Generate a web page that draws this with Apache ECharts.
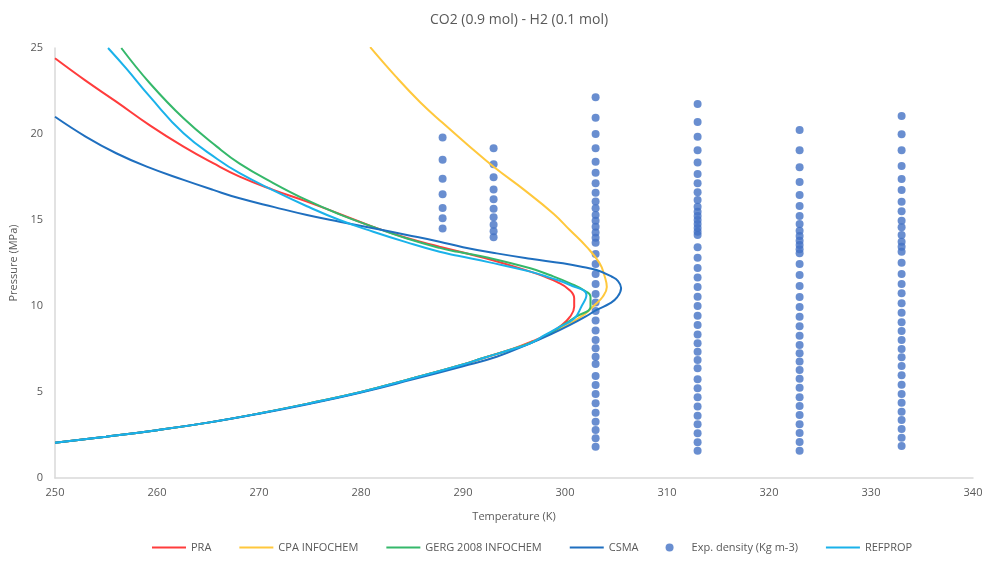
<!DOCTYPE html>
<html>
<head>
<meta charset="utf-8">
<script src="https://cdn.jsdelivr.net/npm/echarts@6/dist/echarts.min.js"></script>
<style>
  html, body { margin: 0; padding: 0; background: #fff; }
  #chart { width: 986px; height: 562px; }
</style>
</head>
<body>
<div id="chart"></div>
<script>
// Phase envelope of CO2 (0.9 mol) - H2 (0.1 mol): model curves [T (K), P (MPa)]
const pra = [[250,2.05],[255,2.4],[260,2.78],[265,3.22],[270,3.75],[275,4.35],[280,5.0],[285,5.78],[290,6.6],
  [292,6.98],[294.9,7.52],[296.8,7.95],[298.3,8.35],[299.6,8.85],[300.5,9.38],[300.9,9.95],[300.9,10.45],
  [300.4,10.95],[299.2,11.4],[297.8,11.75],[296.6,12.0],[293,12.65],[289.5,13.18],[287.7,13.45],[284.5,13.95],
  [281.2,14.6],[277.9,15.35],[274.7,16.07],[271.4,16.75],[268.1,17.52],[265.5,18.3],[262.6,19.26],[259.3,20.5],
  [256,21.88],[253,23.1],[250,24.4]];

const cpaInfochem = [[250,2.05],[255,2.4],[260,2.78],[265,3.22],[270,3.75],[275,4.35],[280,5.0],[285,5.78],[290,6.6],
  [292,6.98],[294.9,7.5],[296.6,7.85],[298.5,8.4],[300.5,9.0],[302,9.55],[302.8,10.0],[303.7,10.54],[304.1,11.1],
  [303.9,11.7],[303.4,12.48],[302.1,13.45],[300.5,14.4],[298.9,15.35],[296,16.75],[293.1,18.05],[290.5,19.35],
  [288,20.65],[285.8,21.85],[283.4,23.35],[280.9,25.05]];

const gerg2008 = [[250,2.05],[255,2.4],[260,2.78],[265,3.22],[270,3.75],[275,4.35],[280,5.0],[285,5.78],[290,6.6],
  [292,6.98],[294.9,7.5],[296.6,7.85],[298.5,8.4],[299.8,8.9],[301.1,9.38],[302.5,9.96],[302.5,10.54],[302.1,10.83],
  [300.5,11.32],[298.5,11.8],[296.6,12.19],[292.5,12.8],[289.5,13.15],[287.7,13.38],[284.5,13.92],[281.2,14.6],
  [277.9,15.33],[274.7,16.15],[271.4,17.15],[268.1,18.28],[265.9,19.25],[262.6,20.91],[259.3,22.95],[256.5,25.0]];

const csma = [[250,2.05],[255,2.4],[260,2.78],[265,3.22],[270,3.74],[275,4.32],[280,4.97],[285,5.72],[290,6.5],
  [293.3,7.05],[296.6,7.83],[298.6,8.35],[300.5,8.9],[302,9.38],[303.1,9.77],[304.4,10.15],[305.1,10.5],
  [305.5,11.05],[305.2,11.45],[304.6,11.7],[303.1,12.09],[301.5,12.3],[299.8,12.48],[296.6,12.75],[293.3,13.06],
  [290,13.42],[287.7,13.74],[284.5,14.13],[281.2,14.52],[277.9,14.9],[274.7,15.29],[271.5,15.75],[268.1,16.26],
  [265.5,16.75],[262.6,17.33],[259,18.1],[256,18.88],[253,19.85],[250,21.0]];

const refprop = [[250,2.05],[255,2.4],[260,2.78],[265,3.22],[270,3.75],[275,4.35],[280,5.0],[285,5.78],[290,6.6],
  [292,6.98],[294.9,7.5],[296.6,7.83],[298,8.3],[299.2,8.7],[300.9,9.28],[301.6,9.96],[302.1,10.64],[300.5,11.22],
  [298.5,11.65],[296.6,12.0],[292.5,12.55],[289.5,12.92],[287.7,13.15],[284.5,13.7],[281.2,14.32],[277.9,15.0],
  [274.7,15.8],[271.4,16.72],[268.1,17.72],[265.9,18.55],[262.6,20.04],[259.3,22.17],[257,23.8],[255.2,25.0]];

// Experimental density measurements: isotherm temperatures (K) and pressures (MPa)
const expTemps = [288, 293, 303, 313, 323, 333];
const expP288 = [19.8, 18.5, 17.4, 16.5, 15.7, 15.1, 14.5];
const expP293 = [19.17, 18.24, 17.48, 16.78, 16.2, 15.66, 15.16, 14.73, 14.34, 14.0];
const expP303 = [22.13, 20.95, 20.0, 19.17, 18.39, 17.75, 17.13, 16.59, 16.07, 15.68, 15.29, 14.96, 14.61,
  14.28, 13.97, 13.68, 13.02, 12.44, 11.86, 11.28, 10.7, 10.21, 9.71, 9.15, 8.57, 8.02, 7.54, 7.05, 6.63,
  5.93, 5.41, 4.88, 4.34, 3.8, 3.27, 2.79, 2.31, 1.82];
const expP313 = [21.74, 20.7, 19.84, 19.05, 18.35, 17.67, 17.13, 16.61, 16.16, 15.77, 15.48, 15.23, 15.0,
  14.77, 14.53, 14.32, 14.13, 13.41, 12.81, 12.21, 11.65, 11.1, 10.54, 10.0, 9.44, 8.9, 8.35, 7.83, 7.34,
  6.86, 6.38, 5.74, 5.22, 4.69, 4.15, 3.62, 3.12, 2.6, 2.08, 1.59];
const expP323 = [20.23, 19.05, 18.06, 17.21, 16.45, 15.81, 15.23, 14.77, 14.38, 14.07, 13.8, 13.55, 13.3,
  13.06, 12.44, 11.8, 11.16, 10.52, 9.94, 9.38, 8.82, 8.27, 7.73, 7.25, 6.77, 6.28, 5.77, 5.25, 4.69, 4.19,
  3.66, 3.12, 2.62, 2.09, 1.59];
const expP333 = [21.05, 19.98, 19.05, 18.14, 17.38, 16.74, 16.06, 15.51, 14.96, 14.58, 14.13, 13.74, 13.45,
  13.16, 12.52, 11.86, 11.28, 10.74, 10.16, 9.61, 9.05, 8.55, 8.02, 7.5, 7.02, 6.51, 5.97, 5.42, 4.88, 4.38,
  3.85, 3.37, 2.85, 2.34, 1.86];

const expPressures = [expP288, expP293, expP303, expP313, expP323, expP333];
const expPoints = [];
expTemps.forEach((t, i) => expPressures[i].forEach(p => expPoints.push([t, p])));

const FONT = 'Open Sans';
const TEXT = '#595959';

function curve(name, data, color) {
  return {
    name, type: 'line', data, smooth: 0.45, symbol: 'none', showSymbol: false,
    lineStyle: { color, width: 2 }, itemStyle: { color }, z: 3
  };
}

// legend entry for a curve: line only, no marker
function lineItem(name) {
  return { name, itemStyle: { opacity: 0 } };
}

const chart = echarts.init(document.getElementById('chart'), null, { renderer: 'canvas' });
chart.setOption({
  animation: false,
  backgroundColor: '#fff',
  textStyle: { fontFamily: FONT },
  title: {
    text: 'CO2 (0.9 mol) - H2 (0.1 mol)',
    left: 514, textAlign: 'center', top: 8,
    textStyle: { fontFamily: FONT, fontSize: 14, fontWeight: 'normal', color: TEXT }
  },
  grid: { left: 55, right: 13, top: 48, bottom: 84, containLabel: false },
  xAxis: {
    type: 'value', min: 250, max: 340, interval: 10,
    name: 'Temperature (K)', nameLocation: 'middle', nameGap: 33,
    nameTextStyle: { fontFamily: FONT, fontSize: 11, color: TEXT },
    axisLine: { show: true, lineStyle: { color: '#d9d9d9', width: 1.5 } },
    axisTick: { show: false },
    splitLine: { show: false },
    axisLabel: { fontFamily: FONT, fontSize: 11, color: TEXT, margin: 9 }
  },
  yAxis: {
    type: 'value', min: 0, max: 25, interval: 5,
    name: 'Pressure (MPa)', nameLocation: 'middle', nameGap: 24, nameRotate: 90,
    nameTextStyle: { fontFamily: FONT, fontSize: 11, color: TEXT },
    axisLine: { show: true, lineStyle: { color: '#d9d9d9', width: 1.5 } },
    axisTick: { show: false },
    splitLine: { show: false },
    axisLabel: { fontFamily: FONT, fontSize: 11, color: TEXT, margin: 12 }
  },
  legend: {
    bottom: 4, left: 146, itemGap: 27, itemWidth: 34, itemHeight: 8,
    textStyle: { fontFamily: FONT, fontSize: 11, color: TEXT },
    data: [lineItem('PRA'), lineItem('CPA INFOCHEM'), lineItem('GERG 2008 INFOCHEM'), lineItem('CSMA'),
      { name: 'Exp. density (Kg m-3)', icon: 'circle' }, lineItem('REFPROP')]
  },
  series: [
    curve('PRA', pra, '#ff3c3c'),
    curve('CPA INFOCHEM', cpaInfochem, '#ffc83c'),
    curve('GERG 2008 INFOCHEM', gerg2008, '#35b86a'),
    curve('CSMA', csma, '#1f6fbf'),
    {
      name: 'Exp. density (Kg m-3)', type: 'scatter', data: expPoints,
      symbol: 'circle', symbolSize: 8, itemStyle: { color: '#4472c4' }, z: 2
    },
    curve('REFPROP', refprop, '#1ab2ea')
  ]
});
</script>
</body>
</html>
